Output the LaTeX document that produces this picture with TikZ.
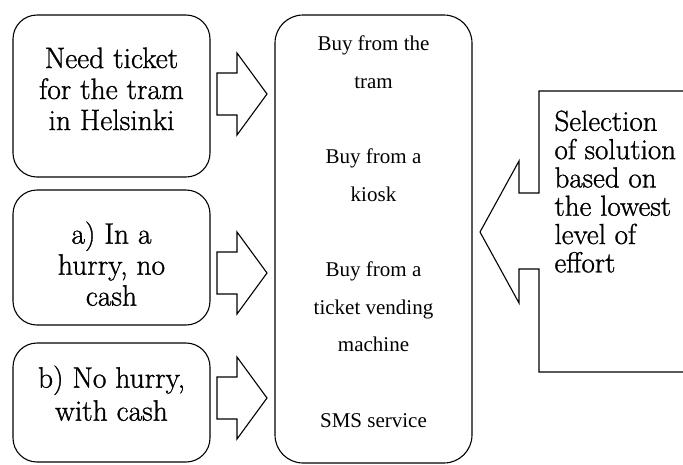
\documentclass[tikz,border=0pt]{standalone}
\usepackage{fontspec}
\setmainfont{Liberation Serif}
\newfontfamily\bigserif{Latin Modern Roman}[FakeBold=1]
\begin{document}
\begin{tikzpicture}[x=1pt, y=-1pt, line width=1.1pt, line join=miter,
  roundbox/.style={draw, rounded corners=24pt, inner sep=0pt},
  bigtext/.style={font=\bigserif\fontsize{29.5}{31}\selectfont, align=center, inner sep=0pt, anchor=north},
  midtext/.style={font=\fontsize{21}{37.7}\selectfont, align=center, inner sep=0pt, anchor=north},
  calltext/.style={font=\bigserif\fontsize{29}{28.3}\selectfont, align=left, inner sep=0pt, anchor=north west},
  blockarrow/.pic={\draw (0,-21) -- (20,-21) -- (20,-41) -- (50,0) -- (20,41) -- (20,21) -- (0,21) -- cycle;}]
\useasboundingbox (0,0) rectangle (683,464);

% situation boxes on the left
\node[roundbox, minimum width=197pt, minimum height=162pt] (need) at (111.5,96) {};
\node[roundbox, minimum width=197pt, minimum height=135pt] (hurry) at (111.5,257.5) {};
\node[roundbox, minimum width=197pt, minimum height=119pt] (nohurry) at (111.5,402.5) {};

\node[bigtext] (needtxt) at (111.5,47) {Need ticket\\for the tram\\in Helsinki};
\node[bigtext] (hurrytxt) at (111.5,221) {a) In a\\hurry, no\\cash};
\node[bigtext, font=\bigserif\fontsize{29.5}{33}\selectfont] (nohurrytxt) at (111.5,365) {b) No hurry,\\with cash};

% block arrows into the options box
\pic at (217,94) {blockarrow};
\pic at (217,273) {blockarrow};
\pic at (217,398) {blockarrow};

% options box
\node[roundbox, rounded corners=28pt, minimum width=197pt, minimum height=448pt] (options) at (373.5,239) {};
\node[midtext] (optstxt) at (373.5,35) {Buy from the\\tram\\[37.7pt]Buy from a\\kiosk\\[37.7pt]Buy from a\\ticket vending\\machine\\[37.7pt]SMS service};

% left-arrow callout with the selection rule
\draw (690,91) -- (539,91) -- (539,193) -- (519,193) -- (519,161) -- (480,232)
      -- (519,303) -- (519,269) -- (539,269) -- (539,372) -- (690,372);
\node[calltext] (rule) at (554,110) {Selection\\of solution\\based on\\the lowest\\level of\\effort};
\end{tikzpicture}
\end{document}
